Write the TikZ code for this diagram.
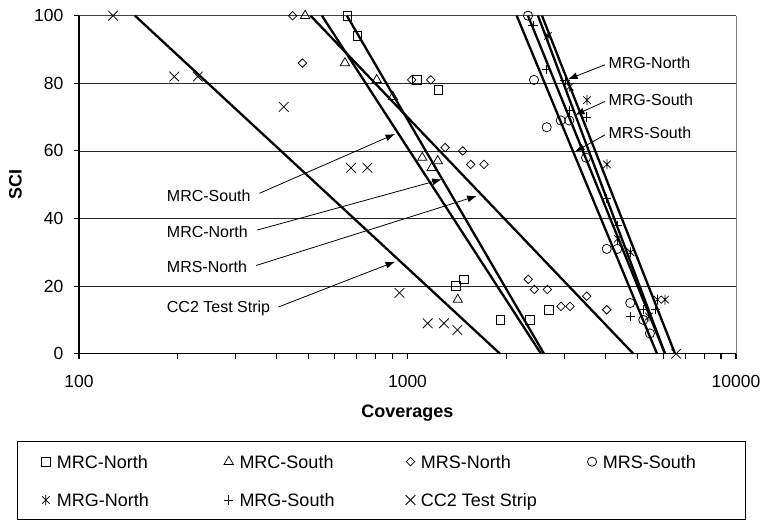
\documentclass[tikz,border=0pt]{standalone}
\usepackage{fontspec}
\setmainfont{Liberation Sans}
\usetikzlibrary{arrows.meta, plotmarks}

\pgfdeclareplotmark{xbar}{%
  \pgfpathmoveto{\pgfqpoint{0pt}{\pgfplotmarksize}}
  \pgfpathlineto{\pgfqpoint{0pt}{-\pgfplotmarksize}}
  \pgfpathmoveto{\pgfqpoint{-.75\pgfplotmarksize}{-.75\pgfplotmarksize}}
  \pgfpathlineto{\pgfqpoint{.75\pgfplotmarksize}{.75\pgfplotmarksize}}
  \pgfpathmoveto{\pgfqpoint{-.75\pgfplotmarksize}{.75\pgfplotmarksize}}
  \pgfpathlineto{\pgfqpoint{.75\pgfplotmarksize}{-.75\pgfplotmarksize}}
  \pgfusepathqstroke
}

\tikzset{
  declare function={lc(\c)=ln(\c)/ln(10)-2;},
  fitline/.style={line width=2.3pt},
  gridline/.style={line width=0.7pt, black!85},
  pts/.style={only marks, line width=0.75pt},
  mrcn/.style={pts, mark=square, mark size=4.3pt},
  mrcs/.style={pts, mark=triangle, mark size=5.4pt},
  mrsn/.style={pts, mark=square, mark size=3pt, mark options={rotate=45}},
  mrss/.style={pts, mark=o, mark size=4.6pt},
  mrgn/.style={pts, mark=xbar, mark size=5pt},
  mrgs/.style={pts, mark=+, mark size=4.6pt},
  cctwo/.style={pts, mark=x, mark size=6.8pt},
  ticklbl/.style={font=\fontsize{17.5}{20}\selectfont, inner sep=0pt},
  lbl/.style={font=\fontsize{16}{19}\selectfont, anchor=base west},
  legtxt/.style={font=\fontsize{18}{21}\selectfont, anchor=base west, inner sep=0pt},
  callout/.style={line width=0.8pt, -{Latex[length=9.5pt,width=7pt]}},
}

\begin{document}
\begin{tikzpicture}[x=1pt,y=1pt]
    \useasboundingbox (0,0) rectangle (770,530);

    \begin{scope}[shift={(79pt,176.3pt)}, x=328.5pt, y=3.38pt]
        \foreach \s in {20,40,60,80}
            \draw[gridline] (0,\s) -- (2,\s);
        \draw[line width=0.8pt, black!75] (0,100) -- (2,100);
        \draw[line width=0.8pt, black!50] (2,100) -- (2,0);
        \draw[line width=1.1pt] (0,100) -- (0,0) -- (2,0);

        \foreach \s in {0,20,...,100} {
            \draw[line width=1.1pt] (0,\s) -- ++(-5pt,0);
            \node[ticklbl, anchor=east] at ([xshift=-15.5pt]0,\s) {\s};
        }
        \foreach \d/\t in {0/100,1/1000,2/10000} {
            \draw[line width=1.1pt] (\d,0) -- ++(0,-5pt);
            \node[ticklbl] at ([yshift=-28pt]\d,0) {\t};
        }
        \foreach \b in {100,1000}
            \foreach \m in {2,...,9}
                \draw[line width=1.1pt] ({lc(\m*\b)},0) -- ++(0,-5pt);

        % fitted lines, SCI 100 -> SCI 0
        \foreach \a/\b in {148/1912, 507/4868, 549/2549, 654/2603,
                           2150/5748, 2327/6080, 2496/6080, 2567/6522}
            \draw[fitline] ({lc(\a)},100) -- ({lc(\b)},0);

        \draw[cctwo] plot coordinates {({lc(127)},100) ({lc(195)},82) ({lc(230)},82)
            ({lc(420)},73) ({lc(673)},55) ({lc(755)},55) ({lc(945)},18) ({lc(1152)},9)
            ({lc(1291)},9) ({lc(1418)},7) ({lc(6570)},0)};
        \draw[mrcn] plot coordinates {({lc(656)},100) ({lc(703)},94) ({lc(1067)},81)
            ({lc(1241)},78) ({lc(1405)},20) ({lc(1486)},22) ({lc(1916)},10)
            ({lc(2360)},10) ({lc(2696)},13)};
        \draw[mrcs] plot coordinates {({lc(488)},100) ({lc(645)},86) ({lc(806)},81)
            ({lc(902)},76) ({lc(1109)},58) ({lc(1236)},57) ({lc(1185)},55) ({lc(1422)},16)};
        \draw[mrsn] plot coordinates {({lc(447)},100) ({lc(479)},86) ({lc(1030)},81)
            ({lc(1177)},81) ({lc(1301)},61) ({lc(1472)},60) ({lc(1557)},56) ({lc(1710)},56)
            ({lc(2332)},22) ({lc(2432)},19) ({lc(2665)},19) ({lc(2934)},14) ({lc(3124)},14)
            ({lc(3512)},17) ({lc(4042)},13)};
        \draw[mrss] plot coordinates {({lc(2327)},100) ({lc(2427)},81) ({lc(2653)},67)
            ({lc(2927)},69) ({lc(3108)},69) ({lc(3495)},58) ({lc(4042)},31) ({lc(4353)},31)
            ({lc(4765)},15) ({lc(5222)},10) ({lc(5470)},6)};
        \draw[mrgn] plot coordinates {({lc(2677)},94) ({lc(3117)},79) ({lc(3519)},75)
            ({lc(4050)},56) ({lc(4360)},34) ({lc(4775)},30) ({lc(5768)},16) ({lc(6080)},16)
            ({lc(5433)},11)};
        \draw[mrgs] plot coordinates {({lc(2410)},97) ({lc(2653)},84) ({lc(3016)},81)
            ({lc(3113)},72) ({lc(3512)},70) ({lc(4042)},46) ({lc(4353)},38) ({lc(4775)},11)
            ({lc(5222)},13) ({lc(5689)},13)};
    \end{scope}

    \node[font=\bfseries\fontsize{18}{21}\selectfont, rotate=90, anchor=base] (ytitle) at (21.7,345) {SCI};
    \node[font=\bfseries\fontsize{18}{21}\selectfont, anchor=base] (xtitle) at (407.3,113) {Coverages};

    % labels and arrows
    \node[lbl] (lmrcs) at (163.4,328.6) {MRC-South};
    \node[lbl] (lmrcn) at (163.4,292.6) {MRC-North};
    \node[lbl] (lmrsn) at (163.4,257) {MRS-North};
    \node[lbl] (lcc)   at (163.4,217) {CC2 Test Strip};
    \node[lbl] (lmrgn) at (605,461) {MRG-North};
    \node[lbl] (lmrgs) at (605,424.3) {MRG-South};
    \node[lbl] (lmrss) at (605,391) {MRS-South};

    \coordinate (tmrcs) at (395,396);
    \coordinate (tmrcn) at (441.7,350.7);
    \coordinate (tmrsn) at (476.7,334);
    \coordinate (tcc)   at (395,268.3);
    \coordinate (tmrgn) at (568,450.7);
    \coordinate (tmrgs) at (575,415);
    \coordinate (tmrss) at (575,378.3);

    \draw[callout, shorten <=6pt] (lmrcs.east) -- (tmrcs);
    \draw[callout, shorten <=6pt] (lmrcn.east) -- (tmrcn);
    \draw[callout, shorten <=6pt] (lmrsn.east) -- (tmrsn);
    \draw[callout, shorten <=5pt] (lcc.east) -- (tcc);
    \draw[callout] ([yshift=-1.5pt]lmrgn.west) -- (tmrgn);
    \draw[callout] ([yshift=-1.5pt]lmrgs.west) -- (tmrgs);
    \draw[callout] ([yshift=-1.5pt]lmrss.west) -- (tmrss);

    % legend
    \draw[line width=0.8pt] (17.3,11) rectangle (745.7,88.3);
    \draw[mrcn] plot coordinates {(45.8,68.3)};
    \node[legtxt] (kmrcn) at (56.7,61.9) {MRC-North};
    \draw[mrcs] plot coordinates {(228.7,68.3)};
    \node[legtxt] (kmrcs) at (239.3,61.9) {MRC-South};
    \draw[mrsn] plot coordinates {(410.5,68.3)};
    \node[legtxt] (kmrsn) at (420.7,61.9) {MRS-North};
    \draw[mrss] plot coordinates {(592,68.3)};
    \node[legtxt] (kmrss) at (602.7,61.9) {MRS-South};
    \draw[mrgn] plot coordinates {(45.8,30)};
    \node[legtxt] (kmrgn) at (56.7,23.6) {MRG-North};
    \draw[mrgs] plot coordinates {(228.7,30)};
    \node[legtxt] (kmrgs) at (239.3,23.6) {MRG-South};
    \draw[cctwo] plot coordinates {(410.5,30)};
    \node[legtxt] (kcc) at (420.7,23.6) {CC2 Test Strip};
\end{tikzpicture}
\end{document}
